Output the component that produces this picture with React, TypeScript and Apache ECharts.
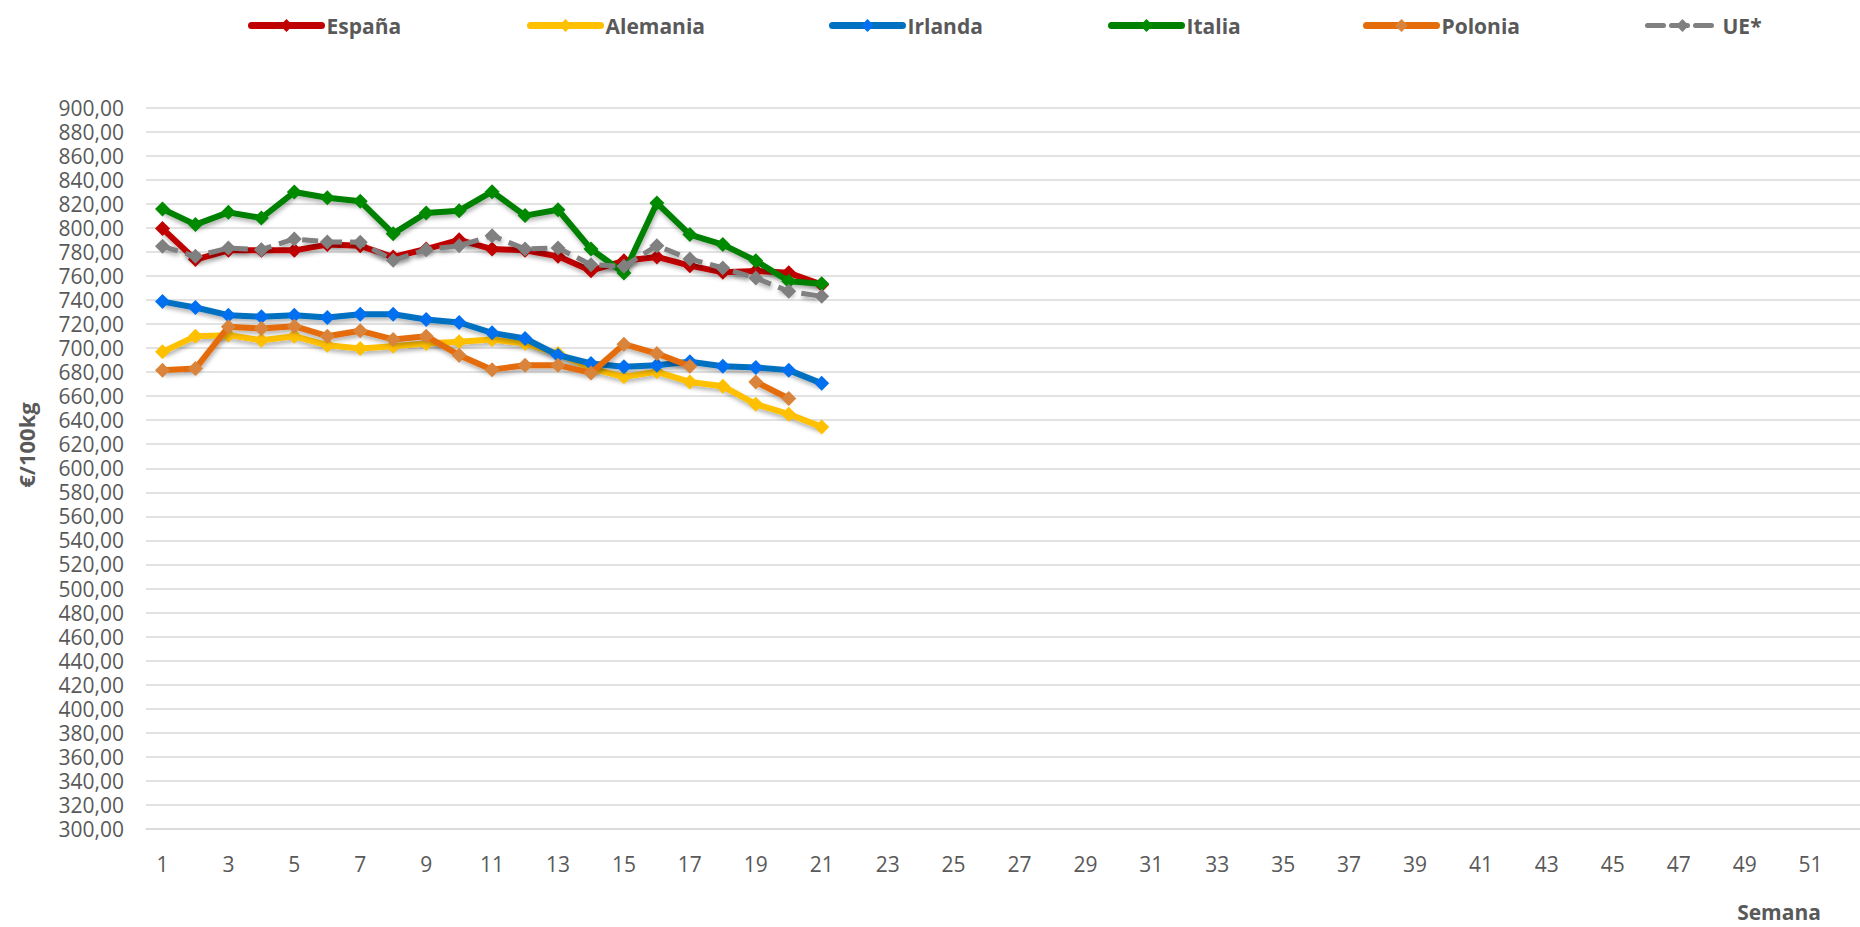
import React, { useEffect, useRef } from "react";
import * as echarts from "echarts";

const weeks = ["1","2","3","4","5","6","7","8","9","10","11","12","13","14","15","16","17","18","19","20","21","22","23","24","25","26","27","28","29","30","31","32","33","34","35","36","37","38","39","40","41","42","43","44","45","46","47","48","49","50","51","52"];

const espana = [799.3, 773.5, 781.2, 781.2, 781.2, 786, 785, 775.7, 782.3, 790, 782.3, 781.2, 776.2, 764.3, 772.5, 775.7, 768.5, 762.9, 764, 762.5, 752.7];
const alemania = [696.8, 709.8, 710.7, 706.5, 709.8, 702.3, 699.6, 701.5, 703.7, 705.1, 707, 703.7, 695.4, 682.9, 676, 680.2, 671.8, 668.2, 653.3, 645, 634.4];
const irlanda = [738.6, 733.7, 727.3, 725.9, 727.3, 725.3, 728.1, 728.1, 723.7, 721.2, 712.6, 707.9, 694, 687.1, 684.4, 685.7, 688.5, 684.9, 683.8, 681.6, 670.6];
const italia = [815.6, 802.6, 812.8, 808.1, 829.7, 825, 822, 795.1, 812.3, 814.2, 830, 810.1, 815, 782.3, 762.4, 820.6, 794.3, 786, 772.6, 755.5, 753.5];
const polonia = [681.6, 682.9, 717.6, 716.2, 718.1, 709.8, 714.3, 707.1, 709.8, 694, 682, 685.7, 685.7, 679.3, 703.2, 695.4, 684.9, null, 671.8, 658];
const ue = [784.6, 776.2, 783.2, 781.8, 790.7, 788.2, 788, 772.9, 781.8, 785.1, 793.4, 782.3, 783.2, 769.3, 767.9, 785.1, 774, 766.5, 758.2, 747.1, 743];

const seriesNames = ["España", "Alemania", "Irlanda", "Italia", "Polonia", "UE*"];
const seriesData = [espana, alemania, irlanda, italia, polonia, ue];
const lineColors = ["#C00000", "#FFC000", "#0070C0", "#008000", "#E46C0A", "#808080"];
const markerColors = ["#C00000", "#FFC000", "#0070F0", "#008A00", "#D9843A", "#808080"];
const legendLefts = [243, 522, 824, 1103, 1358, 1640];

const FONT = "'Open Sans', 'Noto Sans', sans-serif";
const TEXT_COLOR = "#595959";

export default function App() {
  const ref = useRef<HTMLDivElement>(null);
  useEffect(() => {
    if (!ref.current) return;
    const chart = echarts.init(ref.current, null, { renderer: "svg" });
    const series = seriesNames.map((name, i) => ({
      name,
      type: "line",
      data: seriesData[i],
      connectNulls: false,
      symbol: "diamond",
      symbolSize: 15,
      showSymbol: true,
      z: 2 + i,
      lineStyle: {
        color: lineColors[i],
        width: i === 5 ? 5 : 6,
        type: i === 5 ? [16, 8] : "solid",
        shadowColor: "rgba(0,0,0,0.3)",
        shadowBlur: 4,
        shadowOffsetX: 1,
        shadowOffsetY: 3,
      },
      itemStyle: {
        color: markerColors[i],
        borderWidth: 0,
      },
      emphasis: { disabled: true },
    }));
    chart.setOption({
      animation: false,
      textStyle: { fontFamily: FONT },
      grid: { left: 146, right: 0, top: 107.5, bottom: 98, containLabel: false },
      legend: seriesNames.map((name, i) => ({
        left: legendLefts[i],
        top: 10,
        data: [name],
        itemWidth: 70,
        itemHeight: 16,
        itemGap: 0,
        lineStyle: { width: i === 5 ? 5 : 7, cap: "round", shadowBlur: 0, shadowOffsetX: 0, shadowOffsetY: 0 },
        textStyle: { color: TEXT_COLOR, fontSize: 21, fontWeight: "bold", fontFamily: FONT },
      })),
      xAxis: {
        type: "category",
        data: weeks,
        boundaryGap: true,
        axisTick: { show: false },
        axisLine: { show: true, lineStyle: { color: "#D9D9D9", width: 1.5 } },
        axisLabel: { interval: 1, color: TEXT_COLOR, fontSize: 21, margin: 24, fontFamily: FONT },
        splitLine: { show: false },
      },
      yAxis: {
        type: "value",
        min: 300,
        max: 900,
        interval: 20,
        axisLine: { show: false },
        axisTick: { show: false },
        axisLabel: {
          color: TEXT_COLOR,
          fontSize: 21,
          lineHeight: 22,
          margin: 22,
          fontFamily: FONT,
          formatter: (v: number) => v.toFixed(2).replace(".", ","),
        },
        splitLine: { lineStyle: { color: "#D9D9D9", width: 1.5 } },
      },
      graphic: [
        {
          type: "text",
          x: 26,
          y: 445,
          rotation: Math.PI / 2,
          style: {
            text: "€/100kg",
            fill: TEXT_COLOR,
            font: `bold 22px ${FONT}`,
            align: "center",
            verticalAlign: "middle",
          },
        },
        {
          type: "text",
          x: 1779,
          y: 912,
          style: {
            text: "Semana",
            fill: TEXT_COLOR,
            font: `bold 21px ${FONT}`,
            lineHeight: 22,
            align: "center",
            verticalAlign: "middle",
          },
        },
      ],
      series,
    });
    return () => chart.dispose();
  }, []);
  return (
    <div
      ref={ref}
      style={{ position: "fixed", left: 0, top: 0, width: 1860, height: 927, background: "#fff" }}
    />
  );
}
